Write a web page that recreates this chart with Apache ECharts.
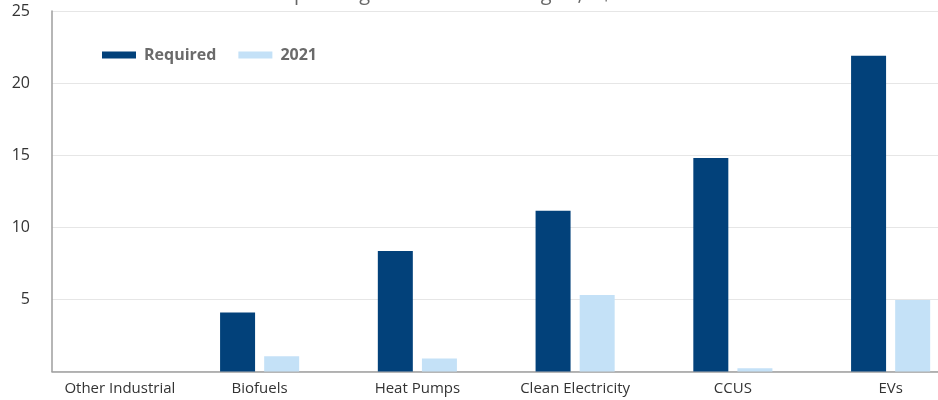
<!DOCTYPE html>
<html>
<head>
<meta charset="utf-8">
<script src="https://cdn.jsdelivr.net/npm/echarts@6/dist/echarts.min.js"></script>
<style>
  html, body { margin: 0; padding: 0; background: #fff; }
  #chart { width: 938px; height: 400px; }
</style>
</head>
<body>
<div id="chart"></div>
<script>
/* chart data */
const categories = ['Other Industrial', 'Biofuels', 'Heat Pumps', 'Clean Electricity', 'CCUS', 'EVs']
const requiredValues = [0, 4.1, 8.35, 11.15, 14.8, 21.9]
const values2021 = [0, 1.05, 0.9, 5.3, 0.22, 4.95]
const yTicks = [0, 5, 10, 15, 20, 25]

const seriesNames = ['Required', '2021']
const colors = ['#02417a', '#c4e1f7']
const fontFamily = '"Open Sans", "Noto Sans", sans-serif'

const chart = echarts.init(document.getElementById('chart'), null, { renderer: 'canvas' })

const yMin = yTicks[0]
const yMax = yTicks[yTicks.length - 1]
const yStep = yTicks[1] - yTicks[0]

const option = {
  animation: false,
  color: colors,
  title: {
    // only the lower half of the title shows in the source crop
    text: 'Spending on clean technologies, C$ billions',
    left: 283,
    top: -16,
    padding: 0,
    textStyle: { color: '#666', fontWeight: 'normal', fontSize: 20, fontFamily }
  },
  legend: {
    data: seriesNames,
    left: 97,
    top: 42,
    itemWidth: 34,
    itemHeight: 7,
    itemGap: 22,
    icon: 'rect',
    textStyle: { color: '#6a6a6a', fontWeight: 'bold', fontSize: 16, fontFamily, padding: [0, 0, 0, 3] }
  },
  grid: [
    // bars grid (category bands run past the right edge like the source)
    { left: 23, top: 11, width: 946.5, height: 360.5, outerBoundsMode: 'none' },
    // visible frame: y axis, gridlines and baseline
    { left: 52, top: 11, right: 0, height: 360.5, outerBoundsMode: 'none' }
  ],
  xAxis: [
    {
      type: 'category',
      gridIndex: 0,
      data: categories,
      axisLine: { show: false },
      axisTick: { show: false },
      axisLabel: {
        interval: 0,
        hideOverlap: false,
        margin: 10,
        color: '#333',
        fontSize: 15,
        fontFamily,
        formatter: (val) => val === categories[0] ? '{shift|' + val + '}' : val,
        rich: { shift: { padding: [0, 0, 0, 36], fontSize: 15, color: '#333', fontFamily } }
      }
    },
    {
      type: 'value',
      gridIndex: 1,
      min: 0,
      max: 1,
      axisLine: { show: true, lineStyle: { color: '#9e9e9e', width: 1.5 } },
      axisTick: { show: false },
      axisLabel: { show: false },
      splitLine: { show: false }
    }
  ],
  yAxis: [
    { type: 'value', gridIndex: 0, min: yMin, max: yMax, interval: yStep, show: false },
    {
      type: 'value',
      gridIndex: 1,
      min: yMin,
      max: yMax,
      interval: yStep,
      axisLine: { show: true, lineStyle: { color: '#9e9e9e', width: 1.5 } },
      axisTick: { show: false },
      axisLabel: {
        margin: 22,
        color: '#333',
        fontSize: 16,
        fontFamily,
        formatter: (v) => v === 0 ? '' : String(v)
      },
      splitLine: { show: true, lineStyle: { color: '#e6e6e6', width: 1 } }
    }
  ],
  series: [
    {
      name: seriesNames[0],
      type: 'bar',
      xAxisIndex: 0,
      yAxisIndex: 0,
      barWidth: 35,
      barGap: '26%',
      data: requiredValues,
      z: 3
    },
    {
      name: seriesNames[1],
      type: 'bar',
      xAxisIndex: 0,
      yAxisIndex: 0,
      barWidth: 35,
      barGap: '26%',
      data: values2021,
      z: 3
    }
  ]
}

chart.setOption(option)
</script>
</body>
</html>
